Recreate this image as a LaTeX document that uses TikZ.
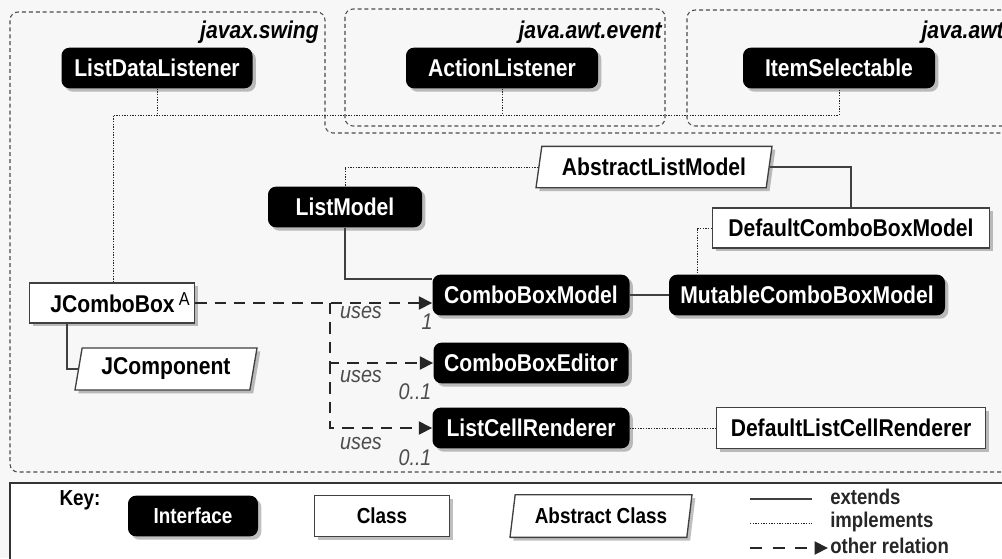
\documentclass[tikz,border=0pt]{standalone}
\usepackage{fontspec}
\setmainfont{Liberation Sans}
\newfontfamily\cond[FakeStretch=0.87]{Liberation Sans}
\usetikzlibrary{shapes.geometric,shadows,arrows.meta}
\tikzset{
  shad/.style={drop shadow={shadow xshift=2.5pt,shadow yshift=-2.5pt,fill=black,opacity=0.25}},
  nodefont/.style={font=\cond\bfseries\fontsize{18.2}{21}\selectfont},
  keyfont/.style={font=\cond\bfseries\fontsize{16.3}{19}\selectfont},
  iface/.style={nodefont,shad,fill=black,text=white,rounded corners=6pt,inner sep=0pt,minimum height=30.5pt},
  cls/.style={nodefont,shad,fill=white,draw=black!75,line width=1pt,text=black,inner sep=0pt,minimum height=30pt},
  absc/.style={nodefont,shad,trapezium,trapezium left angle=72,trapezium right angle=108,trapezium stretches body,fill=white,draw=black!75,line width=1pt,text=black,inner sep=0pt,minimum height=31pt},
  impl/.style={black!85,line width=0.7pt,dash pattern=on 1pt off 1pt},
  ext/.style={black!75,line width=0.8pt},
  usesarrow/.style={black!85,line width=2.2pt,dash pattern=on 8.5pt off 6pt,-{Triangle[length=10pt,width=9.5pt]}},
  pkg/.style={black!70,line width=0.8pt,dash pattern=on 3pt off 2.2pt,rounded corners=6pt},
  pkglabel/.style={font=\cond\bfseries\itshape\fontsize{18.2}{21}\selectfont,anchor=east,inner sep=0pt},
  useslabel/.style={font=\cond\itshape\fontsize{17}{19}\selectfont,text=black!70,inner sep=0pt},
  legtext/.style={font=\cond\bfseries\fontsize{16}{18}\selectfont,anchor=west,inner sep=0pt,text=black!85}
}
\begin{document}
\begin{tikzpicture}[x=0.75pt,y=-0.75pt]
\useasboundingbox (0,0) rectangle (1002,558);
\begin{scope}
\clip (0,0) rectangle (1002,558);
\fill[black!3] (0,0) rectangle (1002,558);
% packages
\draw[pkg] (1015,472) -- (10,472) -- (10,12) -- (325,12) -- (325,133) -- (1015,133);
\draw[pkg] (345,9) rectangle (665,126);
\draw[pkg] (1015,10) -- (687,10) -- (687,126) -- (1015,126);
\node[pkglabel] (lswing) at (319,32) {javax.swing};
\node[pkglabel] (levent) at (662,32) {java.awt.event};
\node[pkglabel] (lawt) at (1004,32) {java.awt};
% key box
\draw[black!80,line width=1pt,fill=white] (10,483) rectangle (1015,575);
\end{scope}

% nodes
\node[iface,minimum width=143.25pt] (ldl) at (157,68) {ListDataListener};
\node[iface,minimum width=144pt] (al) at (502,68) {ActionListener};
\node[iface,minimum width=144pt] (is) at (839,68) {ItemSelectable};
\node[iface,minimum width=115.5pt] (lm) at (345,207) {ListModel};
\node[absc,minimum width=177pt] (alm) at (654,167) {AbstractListModel};
\node[cls,minimum width=207.75pt] (dcbm) at (851,228) {DefaultComboBoxModel};
\node[iface,minimum width=147.75pt] (cbm) at (531,295) {ComboBoxModel};
\node[iface,minimum width=207pt] (mcbm) at (807,295) {MutableComboBoxModel};
\node[iface,minimum width=146.25pt] (cbe) at (531,363) {ComboBoxEditor};
\node[iface,minimum width=147.75pt] (lcr) at (531,428) {ListCellRenderer};
\node[cls,minimum width=201.75pt,minimum height=30.75pt] (dlcr) at (851,428) {DefaultListCellRenderer};
\node[cls,minimum width=123.75pt] (jcb) at (112,303) {\hspace*{12pt}JComboBox\,\raisebox{0.55ex}{\normalfont\cond\fontsize{14}{14}\selectfont A}};
\node[absc,minimum width=136.5pt,minimum height=31.5pt] (jc) at (166,369) {JComponent};

% implements (dotted)
\coordinate (jn) at (113,115);
\draw[impl] (jcb.north -| jn) -- (jn) -- (jn -| is.south) -- (is.south);
\draw[impl] (ldl.south) -- (ldl.south |- jn);
\draw[impl] (al.south) -- (al.south |- jn);
\draw[impl] (alm.west) -| (lm.north);
\coordinate (c1) at (697,228);
\draw[impl] (dcbm.west) -- (c1) -- (c1 |- mcbm.north);
\draw[impl] (lcr.east) -- (dlcr.west);

% extends (solid)
\draw[ext] (alm.east) -| (dcbm.north);
\coordinate (c2) at (345,279);
\draw[ext] (lm.south) -- (c2) -- (c2 -| cbm.west);
\draw[ext] (cbm.east) -- (mcbm.west);
\coordinate (c3) at (67,323);
\draw[ext] (c3) |- (jc.west);

% uses (dashed arrows)
\coordinate (br) at (330,303);
\draw[usesarrow] (jcb.east) -- (jcb.east -| cbm.west);
\draw[usesarrow] (br) |- (cbe.west);
\draw[usesarrow] (br |- cbe.west) |- (lcr.west);
\node[useslabel] (u1) at (361,313) {uses};
\node[useslabel] (m1) at (427,322) {1};
\node[useslabel] (u2) at (361,377) {uses};
\node[useslabel] (m2) at (415,392) {0..1};
\node[useslabel] (u3) at (361,443) {uses};
\node[useslabel] (m3) at (415,458) {0..1};

% key
\node[keyfont,inner sep=0pt] (key) at (80,500) {Key:};
\node[iface,keyfont,minimum width=97.5pt] (kif) at (193,516) {Interface};
\node[cls,keyfont,minimum width=101.25pt,minimum height=31pt] (kcl) at (382,516) {Class};
\node[absc,keyfont,minimum width=136.5pt,minimum height=32pt] (kab) at (601,516) {Abstract Class};
\coordinate (l1a) at (750,499); \coordinate (l1b) at (812,499);
\coordinate (l2a) at (750,523); \coordinate (l2b) at (812,523);
\coordinate (l3a) at (750,548); \coordinate (l3b) at (828,548);
\draw[ext] (l1a) -- (l1b);
\draw[impl] (l2a) -- (l2b);
\draw[usesarrow,dash pattern=on 9pt off 8pt] (l3a) -- (l3b);
\node[legtext] (t1) at (830,497) {extends};
\node[legtext] (t2) at (830,522) {implements};
\node[legtext] (t3) at (830,546) {other relation};
\end{tikzpicture}
\end{document}
